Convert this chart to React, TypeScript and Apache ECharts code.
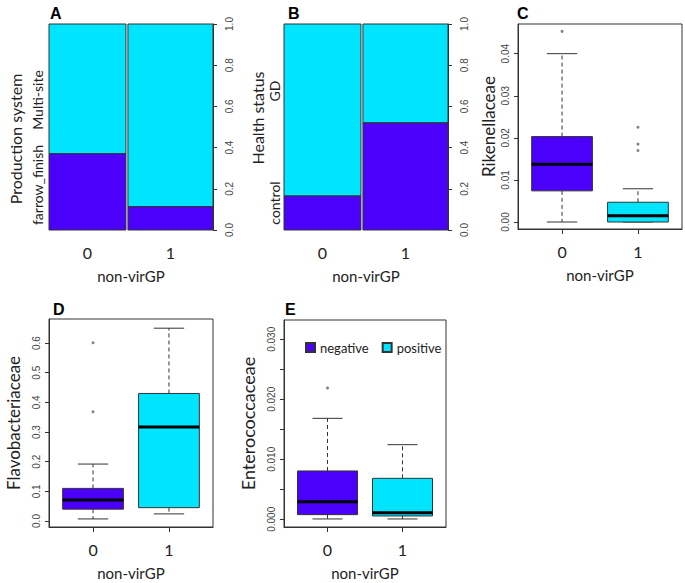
import React, { useEffect, useRef } from "react";
import * as echarts from "echarts";

// ---------- data ----------
const groupLabels = ["0", "1"]; // non-virGP
const groupShare = [0.475, 0.525]; // share of samples per non-virGP group (mosaic widths)
const farrowFinishProp = [0.37, 0.113]; // panel A: lower segment (farrow_finish)
const controlProp = [0.165, 0.52]; // panel B: lower segment (control)

// box stats: [min, q1, median, q3, max]
const rikenStats = [
  [0.0, 0.0074, 0.0137, 0.0203, 0.04],
  [0.0, 0.0, 0.0015, 0.0047, 0.0079],
];
const rikenOutliers = [[0.0453], [0.0225, 0.0185, 0.017]];
const flavoStats = [
  [0.007, 0.04, 0.071, 0.11, 0.192],
  [0.024, 0.045, 0.317, 0.43, 0.65],
];
const flavoOutliers = [[0.368, 0.601], []];
const enteroStats = [
  [0.00006, 0.00078, 0.00294, 0.00806, 0.01683],
  [0.00006, 0.00056, 0.00111, 0.00683, 0.01244],
];
const enteroOutliers = [[0.0219], []];

const mosaicTicks = [0, 0.2, 0.4, 0.6, 0.8, 1.0];
const rikenTicks = [0, 0.01, 0.02, 0.03, 0.04];
const flavoTicks = [0, 0.1, 0.2, 0.3, 0.4, 0.5, 0.6];
const enteroTicks = [0, 0.005, 0.01, 0.015, 0.02, 0.025, 0.03];
const enteroLabelTicks = [0, 0.01, 0.02, 0.03];
const legendNames = ["negative", "positive"];

// ---------- style ----------
const DARK = "#4A00FA";
const CYAN = "#00E5FF";
const EDGE = "#333";
const TXT = "#222";
const SANS = "Lato, 'Noto Sans', sans-serif";
const TICKFONT = "'Liberation Sans', Arial, sans-serif";
const groupColors = [DARK, CYAN];

const GAP = 0.012;
function mosaicBars(props: number[]) {
  const usable = 1 - GAP;
  let start = 0;
  return props.map((p, i) => {
    const end = start + groupShare[i] * usable;
    const item = [start, end, p];
    start = end + GAP;
    return item;
  });
}
function mosaicCenters() {
  return mosaicBars(farrowFinishProp).map((b) => (b[0] + b[1]) / 2);
}

const mosaicRender = (params: any, api: any) => {
  const x0 = api.value(0);
  const x1 = api.value(1);
  const p = api.value(2);
  const tl = api.coord([x0, 1]);
  const mid = api.coord([x0, p]);
  const bl = api.coord([x0, 0]);
  const br = api.coord([x1, 0]);
  const w = br[0] - bl[0];
  return {
    type: "group",
    children: [
      {
        type: "rect",
        shape: { x: tl[0], y: tl[1], width: w, height: mid[1] - tl[1] },
        style: { fill: CYAN, stroke: EDGE, lineWidth: 1 },
      },
      {
        type: "rect",
        shape: { x: mid[0], y: mid[1], width: w, height: bl[1] - mid[1] },
        style: { fill: DARK, stroke: EDGE, lineWidth: 1 },
      },
    ],
  };
};

const makeBoxRender = (color: string) => (params: any, api: any) => {
  const x = api.value(0);
  const mn = api.coord([x, api.value(1)])[1];
  const q1 = api.coord([x, api.value(2)])[1];
  const md = api.coord([x, api.value(3)])[1];
  const q3 = api.coord([x, api.value(4)])[1];
  const mx = api.coord([x, api.value(5)])[1];
  const cx = api.coord([x, 0])[0];
  const l = api.coord([x - 0.4, 0])[0];
  const r = api.coord([x + 0.4, 0])[0];
  const cl = api.coord([x - 0.2, 0])[0];
  const cr = api.coord([x + 0.2, 0])[0];
  const dash = { stroke: EDGE, lineWidth: 1, lineDash: [4, 3] };
  const solid = { stroke: EDGE, lineWidth: 1 };
  return {
    type: "group",
    children: [
      { type: "line", shape: { x1: cx, y1: q3, x2: cx, y2: mx }, style: dash },
      { type: "line", shape: { x1: cx, y1: q1, x2: cx, y2: mn }, style: dash },
      { type: "line", shape: { x1: cl, y1: mx, x2: cr, y2: mx }, style: solid },
      { type: "line", shape: { x1: cl, y1: mn, x2: cr, y2: mn }, style: solid },
      {
        type: "rect",
        shape: { x: l, y: q3, width: r - l, height: q1 - q3 },
        style: { fill: color, stroke: EDGE, lineWidth: 1 },
      },
      { type: "line", shape: { x1: l, y1: md, x2: r, y2: md }, style: { stroke: "#000", lineWidth: 3 } },
    ],
  };
};

export default function App() {
  const ref = useRef<HTMLDivElement>(null);
  useEffect(() => {
    if (!ref.current) return;
    const chart = echarts.init(ref.current, null, { renderer: "svg" });

    const grids = [
      { left: 49, top: 24, width: 164, height: 206 }, // A
      { left: 284, top: 24, width: 164, height: 206 }, // B
      { left: 518, top: 24, width: 164, height: 205 }, // C
      { left: 49, top: 319, width: 164, height: 208 }, // D
      { left: 284, top: 320, width: 162, height: 207 }, // E
    ];
    const boxGrids = [2, 3, 4];

    const centers = mosaicCenters();
    const xAxis: any[] = [];
    const yAxis: any[] = [];

    // mosaic axes
    [0, 1].forEach((g) => {
      xAxis.push({
        type: "value",
        gridIndex: g,
        min: 0,
        max: 1,
        axisLine: { show: false, onZero: false },
        axisTick: { show: false },
        splitLine: { show: false },
        axisLabel: {
          customValues: centers,
          formatter: (v: number) => {
            let best = 0;
            centers.forEach((c, i) => {
              if (Math.abs(c - v) < Math.abs(centers[best] - v)) best = i;
            });
            return groupLabels[best];
          },
          fontFamily: SANS,
          fontSize: 16,
          color: TXT,
          margin: 14,
        },
        name: "non-virGP",
        nameLocation: "middle",
        nameGap: 38,
        nameTextStyle: { fontFamily: SANS, fontSize: 15, color: TXT },
      });
      yAxis.push({
        type: "value",
        gridIndex: g,
        position: "right",
        min: 0,
        max: 1,
        axisLine: { show: true, onZero: false, lineStyle: { color: EDGE } },
        axisTick: { show: true, customValues: mosaicTicks, length: 4, lineStyle: { color: EDGE } },
        splitLine: { show: false },
        axisLabel: {
          customValues: mosaicTicks,
          formatter: (v: number) => v.toFixed(1),
          rotate: 90,
          fontFamily: TICKFONT,
          fontSize: 10,
          color: "#444",
          margin: 11,
        },
      });
    });

    const boxCfg = [
      {
        name: "Rikenellaceae",
        min: -0.00166,
        max: 0.04705,
        ticks: rikenTicks,
        labels: rikenTicks,
        dec: 2,
        nameGap: 21,
        nameSize: 17,
      },
      {
        name: "Flavobacteriaceae",
        min: -0.0202,
        max: 0.681,
        ticks: flavoTicks,
        labels: flavoTicks,
        dec: 1,
        nameGap: 27,
        nameSize: 17,
      },
      {
        name: "Enterococcaceae",
        min: -0.00128,
        max: 0.03322,
        ticks: enteroTicks,
        labels: enteroLabelTicks,
        dec: 3,
        nameGap: 27,
        nameSize: 18,
      },
    ];
    boxCfg.forEach((c, k) => {
      const g = boxGrids[k];
      xAxis.push({
        type: "value",
        gridIndex: g,
        min: 0.42,
        max: 2.58,
        axisLine: { show: true, onZero: false, lineStyle: { color: EDGE } },
        axisTick: { show: true, customValues: [1, 2], length: 5, lineStyle: { color: EDGE } },
        splitLine: { show: false },
        axisLabel: {
          customValues: [1, 2],
          formatter: (v: number) => groupLabels[Math.round(v) - 1],
          fontFamily: SANS,
          fontSize: 16,
          color: TXT,
          margin: 14,
        },
        name: "non-virGP",
        nameLocation: "middle",
        nameGap: 38,
        nameTextStyle: { fontFamily: SANS, fontSize: 15, color: TXT },
      });
      yAxis.push({
        type: "value",
        gridIndex: g,
        min: c.min,
        max: c.max,
        axisLine: { show: true, onZero: false, lineStyle: { color: EDGE } },
        axisTick: { show: true, customValues: c.ticks, length: 4, lineStyle: { color: EDGE } },
        splitLine: { show: false },
        axisLabel: {
          customValues: c.labels,
          formatter: (v: number) => v.toFixed(c.dec),
          rotate: 90,
          fontFamily: TICKFONT,
          fontSize: 10,
          color: "#444",
          margin: 8,
        },
        name: c.name,
        nameLocation: "middle",
        nameRotate: 90,
        nameGap: c.nameGap,
        nameTextStyle: { fontFamily: SANS, fontSize: c.nameSize, color: TXT },
      });
    });

    const series: any[] = [];
    series.push({
      type: "custom",
      name: "A",
      xAxisIndex: 0,
      yAxisIndex: 0,
      renderItem: mosaicRender,
      encode: { x: [0, 1], y: 2 },
      data: mosaicBars(farrowFinishProp),
    });
    series.push({
      type: "custom",
      name: "B",
      xAxisIndex: 1,
      yAxisIndex: 1,
      renderItem: mosaicRender,
      encode: { x: [0, 1], y: 2 },
      data: mosaicBars(controlProp),
    });

    const boxSets = [
      [rikenStats, rikenOutliers],
      [flavoStats, flavoOutliers],
      [enteroStats, enteroOutliers],
    ];
    boxSets.forEach(([stats, outs]: any, k) => {
      const ax = 2 + k;
      stats.forEach((s: number[], i: number) => {
        series.push({
          type: "custom",
          name: k === 2 ? legendNames[i] : "box" + k + "_" + i,
          xAxisIndex: ax,
          yAxisIndex: ax,
          renderItem: makeBoxRender(groupColors[i]),
          itemStyle: { color: groupColors[i], borderColor: EDGE, borderWidth: 1 },
          encode: { x: 0, y: [1, 2, 3, 4, 5] },
          data: [[i + 1, ...s]],
        });
      });
      const pts: number[][] = [];
      outs.forEach((arr: number[], i: number) => arr.forEach((v) => pts.push([i + 1, v])));
      series.push({
        type: "scatter",
        name: "out" + k,
        xAxisIndex: ax,
        yAxisIndex: ax,
        symbol: "circle",
        symbolSize: 3,
        itemStyle: { color: "#666" },
        data: pts,
      });
    });

    const rotText = (text: string, x: number, y: number, size: number) => ({
      type: "text",
      x,
      y,
      rotation: Math.PI / 2,
      style: {
        text,
        fontFamily: SANS,
        fontSize: size,
        fill: TXT,
        align: "center",
        verticalAlign: "middle",
      },
    });
    const letter = (text: string, x: number, y: number) => ({
      type: "text",
      x,
      y,
      style: {
        text,
        fontFamily: "'Liberation Sans', Arial, sans-serif",
        fontWeight: "bold",
        fontSize: 16,
        fill: "#000",
        align: "left",
        verticalAlign: "middle",
      },
    });

    chart.setOption({
      animation: false,
      backgroundColor: "#fff",
      grid: grids.map((g, i) =>
        boxGrids.includes(i)
          ? { ...g, show: true, borderColor: EDGE, borderWidth: 1, backgroundColor: "transparent" }
          : { ...g }
      ),
      xAxis,
      yAxis,
      legend: {
        data: legendNames.map((n) => ({ name: n, icon: "rect" })),
        left: 300,
        top: 336,
        itemWidth: 9,
        itemHeight: 9,
        itemGap: 13,
        selectedMode: false,
        textStyle: { fontFamily: SANS, fontSize: 13, color: TXT },
      },
      series,
      graphic: [
        letter("A", 50, 13),
        letter("B", 288, 13),
        letter("C", 517, 13),
        letter("D", 53, 309),
        letter("E", 285, 309),
        rotText("Production system", 15, 139, 16),
        rotText("Multi-site", 37, 100, 14),
        rotText("farrow_finish", 37, 185, 14),
        rotText("Health status", 257, 118, 16),
        rotText("GD", 274, 91, 14),
        rotText("control", 274, 203, 14),
      ],
    });
    return () => chart.dispose();
  }, []);
  return (
    <div
      ref={ref}
      style={{ position: "absolute", left: 0, top: 0, width: 685, height: 583 }}
    />
  );
}
